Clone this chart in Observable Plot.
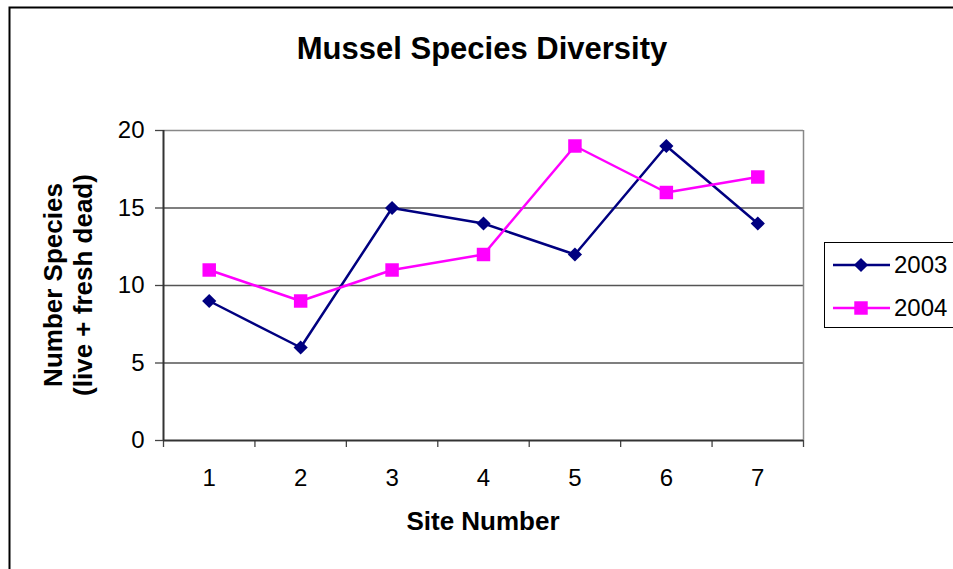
<!DOCTYPE html>
<html>
<head>
<meta charset="utf-8">
<script src="https://cdn.jsdelivr.net/npm/d3@7"></script>
<script src="https://cdn.jsdelivr.net/npm/@observablehq/plot@0.6"></script>
<style>
  html, body { margin: 0; padding: 0; background: #fff; overflow: hidden; }
  svg { display: block; }
</style>
</head>
<body>
<div id="chart"></div>
<script>
// ---- data ----
const sites = [1, 2, 3, 4, 5, 6, 7];
const siteLabels = ["1", "2", "3", "4", "5", "6", "7"];
const series = ["2003", "2004"];
const values2003 = [9, 6, 15, 14, 12, 19, 14];
const values2004 = [11, 9, 11, 12, 19, 16, 17];
const yTicks = [0, 5, 10, 15, 20];
const gridValues = [5, 10, 15];
const colors = ["#000080", "#FF00FF"];
const titleText = "Mussel Species Diversity";
const yTitleLines = ["Number Species", "(live + fresh dead)"];
const xTitleText = "Site Number";

const rows2003 = sites.map((s, i) => ({site: s, value: values2003[i], series: "2003"}));
const rows2004 = sites.map((s, i) => ({site: s, value: values2004[i], series: "2004"}));
const boundaries = sites.map(s => s - 0.5).concat([sites[sites.length - 1] + 0.5]);

const W = 953, H = 569;
const FONT = "'Liberation Sans', Arial, Helvetica, sans-serif";
const rDiamond = 6.4, rSquare = 7.6;

const svg = Plot.plot({
  width: W,
  height: H,
  marginLeft: 163,
  marginRight: 150,
  marginTop: 130,
  marginBottom: 129,
  style: {fontFamily: FONT, fontSize: "24px", color: "#000", background: "#fff"},
  x: {type: "linear", domain: [0.5, 7.5]},
  y: {type: "linear", domain: [0, 20]},
  marks: [
    Plot.ruleY(gridValues, {stroke: "#555", strokeWidth: 1.3}),
    Plot.ruleY([20], {stroke: "#888", strokeWidth: 1.5}),
    Plot.ruleX([7.5], {stroke: "#888", strokeWidth: 1.5}),
    Plot.axisY({ticks: yTicks, tickSize: 8, tickPadding: 11, label: null, fontSize: 24, stroke: "#444", strokeWidth: 1.3}),
    Plot.axisX({ticks: boundaries, tickSize: 7, tickFormat: () => "", label: null, stroke: "#444", strokeWidth: 1.3}),
    Plot.axisX({ticks: sites, tickSize: 0, tickPadding: 28, tickFormat: d => siteLabels[sites.indexOf(d)], label: null, fontSize: 24}),
    Plot.ruleX([0.5], {stroke: "#333", strokeWidth: 2}),
    Plot.ruleY([0], {stroke: "#333", strokeWidth: 2}),
    Plot.line(rows2003, {x: "site", y: "value", stroke: colors[0], strokeWidth: 2.5}),
    Plot.line(rows2004, {x: "site", y: "value", stroke: colors[1], strokeWidth: 2.5}),
    Plot.dot(rows2003, {x: "site", y: "value", symbol: "diamond2", r: rDiamond, fill: colors[0], stroke: "none"}),
    Plot.dot(rows2004, {x: "site", y: "value", symbol: "square", r: rSquare, fill: colors[1], stroke: "none"})
  ]
});

const s = d3.select(svg);

// outer chart frame
s.append("rect")
  .attr("x", 9.5).attr("y", 7.5)
  .attr("width", W + 20).attr("height", H + 20)
  .attr("fill", "none").attr("stroke", "#000").attr("stroke-width", 2);

// title
s.append("text")
  .attr("x", 482).attr("y", 59)
  .attr("text-anchor", "middle")
  .attr("font-family", FONT).attr("font-weight", "bold").attr("font-size", 31)
  .attr("fill", "#000")
  .text(titleText);

// y axis title (two lines, rotated)
const yBase = [62, 92];
yTitleLines.forEach((t, i) => {
  s.append("text")
    .attr("transform", `translate(${yBase[i]},285) rotate(-90)`)
    .attr("text-anchor", "middle")
    .attr("font-family", FONT).attr("font-weight", "bold").attr("font-size", 26)
    .attr("fill", "#000")
    .text(t);
});

// x axis title
s.append("text")
  .attr("x", 483).attr("y", 530)
  .attr("text-anchor", "middle")
  .attr("font-family", FONT).attr("font-weight", "bold").attr("font-size", 26)
  .attr("fill", "#000")
  .text(xTitleText);

// legend
const lg = s.append("g");
lg.append("rect")
  .attr("x", 824.5).attr("y", 242.5)
  .attr("width", 150).attr("height", 85)
  .attr("fill", "#fff").attr("stroke", "#000").attr("stroke-width", 1);
const legendY = [265, 308];
const legendSymbols = [d3.symbolDiamond2, d3.symbolSquare];
const legendSizes = [Math.PI * rDiamond * rDiamond, Math.PI * rSquare * rSquare];
series.forEach((name, i) => {
  lg.append("line")
    .attr("x1", 833).attr("x2", 890)
    .attr("y1", legendY[i]).attr("y2", legendY[i])
    .attr("stroke", colors[i]).attr("stroke-width", 2.5);
  lg.append("path")
    .attr("transform", `translate(861,${legendY[i]})`)
    .attr("d", d3.symbol(legendSymbols[i], legendSizes[i])())
    .attr("fill", colors[i]);
  lg.append("text")
    .attr("x", 894).attr("y", legendY[i] + 8)
    .attr("text-anchor", "start")
    .attr("font-family", FONT).attr("font-size", 24)
    .attr("fill", "#000")
    .text(name);
});

document.getElementById("chart").appendChild(svg);
</script>
</body>
</html>
